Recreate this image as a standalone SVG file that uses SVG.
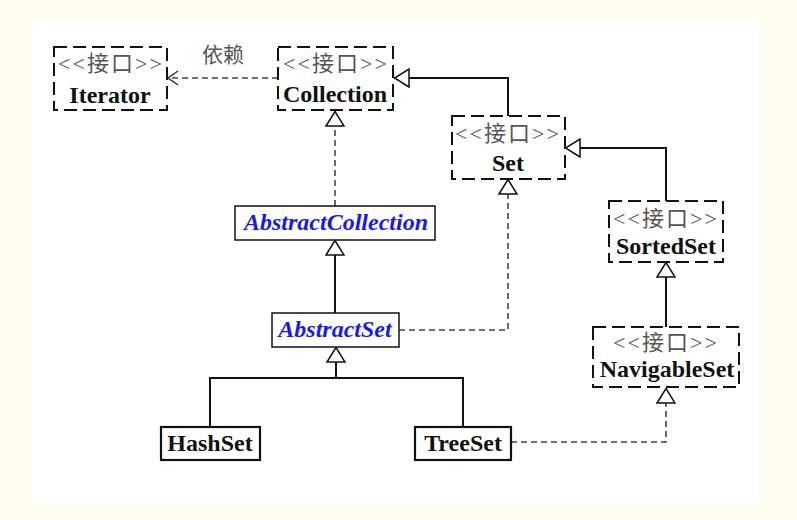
<svg xmlns="http://www.w3.org/2000/svg" width="797" height="520" viewBox="0 0 797 520">
<style>
.ibox{fill:#fff;stroke:#111;stroke-width:2;stroke-dasharray:13 6}
.cbox{fill:#fff;stroke:#111;stroke-width:1.5}
.kbox{fill:#fff;stroke:#111;stroke-width:2.2}
.st{font-family:"Liberation Serif","Noto Sans CJK SC",serif;font-size:22px;fill:#555;text-anchor:middle}
.nm{font-family:"Liberation Serif",serif;font-size:24px;font-weight:bold;fill:#111;text-anchor:middle}
.ab{font-family:"Liberation Serif",serif;font-size:24px;font-weight:bold;font-style:italic;fill:#1a1ae6;text-anchor:middle}
.lbl{font-family:"Noto Sans CJK SC","Liberation Sans",sans-serif;font-size:21px;fill:#555;text-anchor:middle}
.solid{fill:none;stroke:#111;stroke-width:2}
.dash{fill:none;stroke:#444;stroke-width:1.6;stroke-dasharray:6 4}
</style>
<defs>
<marker id="tri" viewBox="0 0 16 20" refX="16" refY="10" markerWidth="16" markerHeight="20" markerUnits="userSpaceOnUse" orient="auto">
<path d="M1,1 L15.5,10 L1,19 Z" fill="#fff" stroke="#111" stroke-width="1.5" stroke-dasharray="none"/>
</marker>
<marker id="open" viewBox="0 0 12 16" refX="11" refY="8" markerWidth="12" markerHeight="16" markerUnits="userSpaceOnUse" orient="auto">
<path d="M1,1 L11,8 L1,15" fill="none" stroke="#333" stroke-width="1.5" stroke-dasharray="none"/>
</marker>
</defs>
<rect x="0" y="0" width="797" height="520" fill="#fefef0"/>
<rect x="32" y="20" width="727" height="483" fill="#ffffff"/>
<g id="connectors">
<path class="dash" d="M278,78 L168,78" marker-end="url(#open)"/>
<text class="lbl" x="223" y="62">依赖</text>
<path class="solid" d="M508,116 L508,78 L394,78" marker-end="url(#tri)"/>
<path class="dash" d="M335,206 L335,111" marker-end="url(#tri)"/>
<path class="solid" d="M335,313 L335,240" marker-end="url(#tri)"/>
<path class="dash" d="M399,330 L508,330 L508,179" marker-end="url(#tri)"/>
<path class="solid" d="M666,201 L666,148 L565,148" marker-end="url(#tri)"/>
<path class="solid" d="M666,327 L666,262" marker-end="url(#tri)"/>
<path class="solid" d="M210,427 L210,378 L463,378 L463,427"/>
<path class="solid" d="M336,378 L336,347" marker-end="url(#tri)"/>
<path class="dash" d="M511,442 L666,442 L666,388" marker-end="url(#tri)"/>
</g>
<g id="Iterator">
<rect class="ibox" x="54" y="47" width="113" height="63"/>
<text class="st" x="110" y="71" textLength="104">&lt;&lt;接口&gt;&gt;</text>
<text class="nm" x="110" y="103">Iterator</text>
</g>
<g id="Collection">
<rect class="ibox" x="278" y="47" width="115" height="63"/>
<text class="st" x="335" y="71" textLength="104">&lt;&lt;接口&gt;&gt;</text>
<text class="nm" x="335" y="102">Collection</text>
</g>
<g id="Set">
<rect class="ibox" x="452" y="116" width="113" height="63"/>
<text class="st" x="507" y="141" textLength="104">&lt;&lt;接口&gt;&gt;</text>
<text class="nm" x="508" y="171">Set</text>
</g>
<g id="AbstractCollection">
<rect class="cbox" x="235" y="206" width="200" height="34"/>
<text class="ab" x="336" y="230">AbstractCollection</text>
</g>
<g id="AbstractSet">
<rect class="cbox" x="272" y="313" width="127" height="34"/>
<text class="ab" x="335" y="337">AbstractSet</text>
</g>
<g id="SortedSet">
<rect class="ibox" x="609" y="201" width="114" height="61"/>
<text class="st" x="665" y="226" textLength="104">&lt;&lt;接口&gt;&gt;</text>
<text class="nm" x="666" y="254">SortedSet</text>
</g>
<g id="NavigableSet">
<rect class="ibox" x="593" y="327" width="146" height="60"/>
<text class="st" x="665" y="350" textLength="104">&lt;&lt;接口&gt;&gt;</text>
<text class="nm" x="667" y="377">NavigableSet</text>
</g>
<g id="HashSet">
<rect class="kbox" x="161" y="427" width="99" height="33"/>
<text class="nm" x="210" y="451">HashSet</text>
</g>
<g id="TreeSet">
<rect class="kbox" x="415" y="427" width="96" height="33"/>
<text class="nm" x="463" y="451">TreeSet</text>
</g>
</svg>
